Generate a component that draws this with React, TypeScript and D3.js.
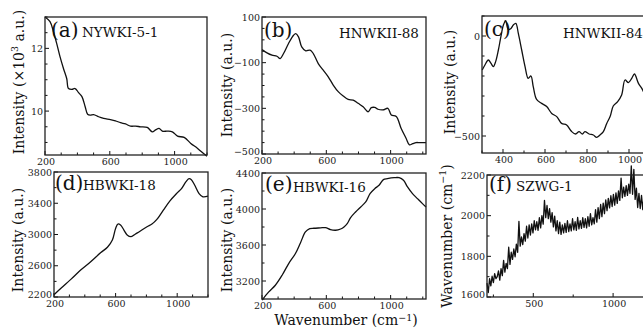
import React from 'react';
import * as d3 from 'd3';

const FONT = "'DejaVu Serif', 'Liberation Serif', 'Times New Roman', serif";

// (a) NYWKI-5-1, intensity in 10^3 a.u.
const aWave = [200, 231, 252, 272, 293, 314, 334, 345, 366, 386, 407, 428, 448, 463, 479, 500, 531, 562, 604, 635, 666, 697, 728, 759, 790, 831, 862, 883, 904, 924, 955, 986, 1018, 1059, 1100, 1142, 1183, 1200];
const aInt = [13.0, 12.85, 12.53, 12.16, 11.73, 11.36, 11.04, 10.72, 10.69, 10.72, 10.59, 10.46, 10.14, 9.9, 9.87, 9.89, 9.82, 9.77, 9.73, 9.69, 9.63, 9.59, 9.52, 9.52, 9.5, 9.48, 9.34, 9.4, 9.45, 9.36, 9.36, 9.34, 9.2, 9.16, 8.97, 8.81, 8.63, 8.56];

// (b) HNWKII-88
const bWave = [200, 231, 262, 293, 313, 334, 365, 396, 410, 427, 447, 472, 499, 519, 550, 581, 612, 643, 674, 705, 736, 767, 798, 829, 860, 880, 901, 921, 952, 983, 1004, 1035, 1065, 1096, 1117, 1137, 1158, 1178, 1220];
const bInt = [-43, -57, -67, -72, -82, -60, -16, 20, 27, 13, -31, -48, -45, -60, -104, -133, -162, -198, -227, -246, -261, -264, -278, -293, -315, -297, -296, -304, -307, -300, -329, -336, -387, -431, -460, -455, -450, -450, -450];

// (c) HNWKII-84
const cWave = [301, 314, 330, 343, 354, 365, 378, 390, 402, 413, 425, 438, 449, 461, 473, 489, 505, 520, 533, 544, 560, 584, 608, 632, 656, 679, 703, 727, 746, 762, 778, 790, 810, 830, 846, 862, 878, 894, 910, 925, 946, 965, 981, 997, 1013, 1026, 1045, 1061, 1076];
const cInt = [-170, -145, -120, -137, -153, -128, -70, -3, 55, 77, 33, 38, 55, 63, 13, -70, -153, -212, -200, -253, -317, -337, -353, -387, -403, -437, -445, -478, -490, -478, -490, -478, -490, -495, -507, -495, -478, -437, -403, -350, -328, -295, -220, -233, -212, -190, -237, -262, -295];

// (d) HBWKI-18
const dWave = [200, 247, 311, 375, 440, 504, 547, 579, 600, 615, 632, 654, 675, 701, 729, 761, 804, 836, 868, 910, 953, 996, 1028, 1056, 1077, 1092, 1114, 1142, 1167, 1200];
const dInt = [2230, 2315, 2429, 2548, 2654, 2769, 2837, 2930, 3078, 3134, 3121, 3057, 2994, 2972, 3006, 3045, 3100, 3134, 3193, 3312, 3431, 3524, 3588, 3673, 3715, 3702, 3630, 3524, 3482, 3490];

// (e) HBWKI-16
const eWave = [200, 242, 283, 325, 366, 408, 439, 470, 497, 522, 564, 595, 626, 658, 689, 710, 730, 751, 782, 814, 845, 872, 901, 928, 955, 980, 1022, 1053, 1080, 1105, 1136, 1167, 1198, 1220];
const eInt = [2987, 3079, 3153, 3264, 3394, 3505, 3623, 3745, 3782, 3786, 3790, 3793, 3771, 3764, 3778, 3801, 3838, 3904, 3967, 4023, 4078, 4171, 4226, 4263, 4326, 4337, 4348, 4348, 4319, 4245, 4171, 4115, 4060, 4023];

// (f) SZWG-1, sampled every 8 cm-1 from 210
const fStart = 210;
const fStep = 8;
const fVal = [
  1668, 1622, 1690, 1655, 1702, 1671, 1715, 1690, 1700, 1728,
  1683, 1740, 1705, 1780, 1722, 1765, 1740, 1845, 1760, 1820,
  1785, 1836, 1798, 1860, 1820, 1972, 1850, 1895, 1858, 1912,
  1875, 1948, 1890, 1955, 1905, 1960, 1915, 1975, 1930, 1970,
  1928, 1990, 1940, 2000, 1958, 2075, 1990, 2050, 1985, 2035,
  1968, 2015, 1945, 1998, 1925, 1975, 1912, 1968, 1908, 1955,
  1915, 1962, 1918, 1975, 1922, 1960, 1925, 1985, 1930, 1970,
  1928, 1992, 1935, 1975, 1938, 1990, 1942, 1985, 1940, 1995,
  1948, 2010, 1955, 1990, 1960, 2030, 1968, 2040, 1985, 2055,
  1995, 2062, 2010, 2078, 2025, 2085, 2038, 2098, 2045, 2105,
  2052, 2112, 2060, 2122, 2075, 2185, 2088, 2140, 2095, 2148,
  2100, 2155, 2110, 2245, 2105, 2228, 2080, 2135, 2040, 2110,
  2035, 2100, 2030, 2095, 2045, 2105, 2050, 2110, 2055, 2100,
  2060,
];
const fWave = fVal.map((_, i) => fStart + i * fStep);

type PanelCfg = {
  left: number; right: number; top: number; bottom: number;
  xDomain: [number, number]; yDomain: [number, number];
  xLabels: number[]; xMinor: number;
  yLabels: number[]; yMinor: number;
  xs: number[]; ys: number[];
  smooth: boolean;
  tag: string; tagX: number; tagY: number;
  name: string; nameX: number; nameY: number;
  yTitle: React.ReactNode; yTitleX: number; yTitleY: number;
};

const sup = (base: string, s: string, tail: string) => (
  <>
    {base}
    <tspan dy={-5} fontSize={9.5}>{s}</tspan>
    <tspan dy={5}>{tail}</tspan>
  </>
);

const panels: PanelCfg[] = [
  {
    left: 45, right: 207, top: 17, bottom: 155,
    xDomain: [200, 1200], yDomain: [8.6, 13],
    xLabels: [200, 600, 1000], xMinor: 100,
    yLabels: [10, 12], yMinor: 0.5,
    xs: aWave, ys: aInt, smooth: true,
    tag: '(a)', tagX: 51, tagY: 37, name: 'NYWKI-5-1', nameX: 82, nameY: 37,
    yTitle: sup('Intensity (×10', '3', ' a.u.)'), yTitleX: 19, yTitleY: 82,
  },
  {
    left: 262, right: 426, top: 17, bottom: 154,
    xDomain: [200, 1220], yDomain: [-500, 100],
    xLabels: [200, 600, 1000], xMinor: 100,
    yLabels: [100, -100, -300, -500], yMinor: 50,
    xs: bWave, ys: bInt, smooth: true,
    tag: '(b)', tagX: 264, tagY: 37, name: 'HNWKII-88', nameX: 339, nameY: 38,
    yTitle: 'Intensity (a.u.)', yTitleX: 227, yTitleY: 85,
  },
  {
    left: 482, right: 650, top: 16, bottom: 153,
    xDomain: [300, 1100], yDomain: [-585, 100],
    xLabels: [400, 600, 800, 1000], xMinor: 100,
    yLabels: [0, -500], yMinor: 100,
    xs: cWave, ys: cInt, smooth: true,
    tag: '(c)', tagX: 484, tagY: 36, name: 'HNWKII-84', nameX: 563, nameY: 38,
    yTitle: 'Intensity (a.u.)', yTitleX: 450, yTitleY: 82,
  },
  {
    left: 54, right: 208, top: 172, bottom: 297,
    xDomain: [200, 1200], yDomain: [2200, 3800],
    xLabels: [200, 600, 1000], xMinor: 100,
    yLabels: [2200, 2600, 3000, 3400, 3800], yMinor: 200,
    xs: dWave, ys: dInt, smooth: true,
    tag: '(d)', tagX: 55, tagY: 190, name: 'HBWKI-18', nameX: 83, nameY: 190,
    yTitle: 'Intensity (a.u.)', yTitleX: 18, yTitleY: 240,
  },
  {
    left: 262, right: 426, top: 173, bottom: 299,
    xDomain: [200, 1220], yDomain: [3000, 4400],
    xLabels: [200, 600, 1000], xMinor: 100,
    yLabels: [3200, 3600, 4000, 4400], yMinor: 200,
    xs: eWave, ys: eInt, smooth: true,
    tag: '(e)', tagX: 265, tagY: 191, name: 'HBWKI-16', nameX: 293, nameY: 192,
    yTitle: 'Intensity (a.u.)', yTitleX: 227, yTitleY: 240,
  },
  {
    left: 487, right: 653, top: 175, bottom: 297,
    xDomain: [210, 1250], yDomain: [1600, 2200],
    xLabels: [500, 1000], xMinor: 250,
    yLabels: [1600, 1800, 2000, 2200], yMinor: 100,
    xs: fWave, ys: fVal, smooth: false,
    tag: '(f)', tagX: 489, tagY: 191, name: 'SZWG-1', nameX: 516, nameY: 191,
    yTitle: sup('Wavenumber (cm', '−1', ')'), yTitleX: 447, yTitleY: 236,
  },
];

const fmt = (v: number) => (v < 0 ? '−' + Math.abs(v) : String(v));

function Panel({ p }: { p: PanelCfg }) {
  const x = d3.scaleLinear().domain(p.xDomain).range([p.left, p.right]);
  const y = d3.scaleLinear().domain(p.yDomain).range([p.bottom, p.top]);
  const line = d3
    .line<[number, number]>()
    .x((d) => x(d[0]))
    .y((d) => y(d[1]))
    .curve(p.smooth ? d3.curveCatmullRom.alpha(0.5) : d3.curveLinear);
  const pts = p.xs.map((v, i) => [v, p.ys[i]] as [number, number]);

  const xMinor = d3.range(Math.ceil(p.xDomain[0] / p.xMinor) * p.xMinor, p.xDomain[1] + 1e-9, p.xMinor);
  const yMinor = d3.range(Math.ceil(p.yDomain[0] / p.yMinor) * p.yMinor, p.yDomain[1] + 1e-9, p.yMinor);

  return (
    <g>
      {xMinor.map((v) => {
        const major = p.xLabels.includes(v);
        const len = major ? 4 : 2.5;
        return <line key={'xm' + v} x1={x(v)} x2={x(v)} y1={p.bottom} y2={p.bottom - len} stroke="#111" strokeWidth={1} />;
      })}
      {yMinor.map((v) => {
        const major = p.yLabels.some((l) => Math.abs(l - v) < 1e-6);
        const len = major ? 4 : 2.5;
        return <line key={'ym' + v} x1={p.left} x2={p.left + len} y1={y(v)} y2={y(v)} stroke="#111" strokeWidth={1} />;
      })}
      <path d={line(pts) ?? ''} fill="none" stroke="#111" strokeWidth={1.3} strokeLinejoin="round" />
      <rect x={p.left} y={p.top} width={p.right - p.left} height={p.bottom - p.top} fill="none" stroke="#222" strokeWidth={1.3} />
      {p.xLabels.map((v) => (
        <text key={'xl' + v} x={x(v) + 1} y={p.bottom + 9.5} fontSize={9.5} textAnchor="middle" fill="#222" fontFamily={FONT}>
          {v}
        </text>
      ))}
      {p.yLabels.map((v) => (
        <text
          key={'yl' + v}
          x={p.left - 2}
          y={y(v) + (v === p.yDomain[0] ? 1 : 3.5)}
          fontSize={9.5}
          textAnchor="end"
          fill="#222"
          fontFamily={FONT}
        >
          {fmt(v)}
        </text>
      ))}
      <text x={p.tagX} y={p.tagY} fontSize={20} fill="#111" fontFamily={FONT}>{p.tag}</text>
      <text x={p.nameX} y={p.nameY} fontSize={13.5} fill="#111" fontFamily={FONT}>{p.name}</text>
      <text
        transform={`translate(${p.yTitleX},${p.yTitleY}) rotate(-90)`}
        textAnchor="middle"
        dominantBaseline="central"
        fontSize={14}
        fill="#111"
        fontFamily={FONT}
      >
        {p.yTitle}
      </text>
    </g>
  );
}

export default function App() {
  return (
    <svg
      width={643}
      height={328}
      style={{ position: 'absolute', left: 0, top: 0, background: '#fff', overflow: 'hidden', fontFamily: FONT }}
    >
      <rect x={0} y={0} width={643} height={328} fill="#fff" />
      {panels.map((p, i) => (
        <Panel key={i} p={p} />
      ))}
      <text x={346} y={325} fontSize={14} textAnchor="middle" fill="#111" fontFamily={FONT}>
        Wavenumber (cm<tspan dy={-4} fontSize={9.5}>−1</tspan><tspan dy={4}>)</tspan>
      </text>
    </svg>
  );
}
